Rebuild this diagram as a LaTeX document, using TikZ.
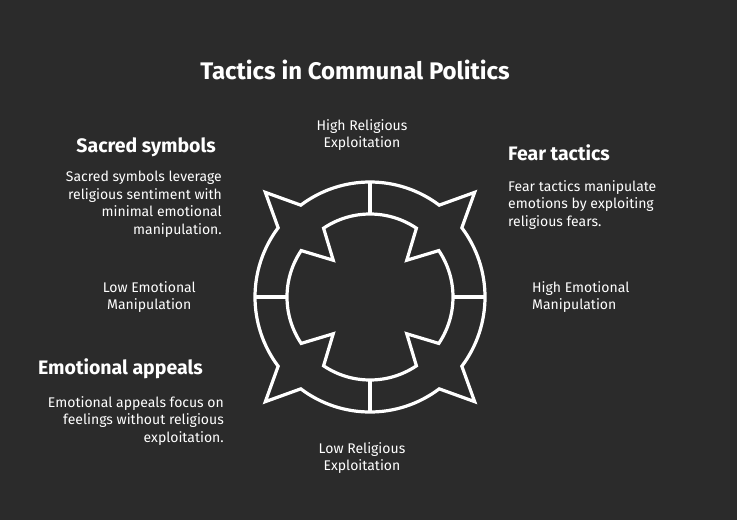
\documentclass[tikz,border=0pt]{standalone}
\usepackage{fontspec}
\setmainfont{Fira Sans}
\begin{document}
\begin{tikzpicture}[x=1pt,y=-1pt,
  lbl/.style={text=white,font=\fontsize{14}{17.5}\selectfont,inner sep=0pt},
  hd/.style={text=white,font=\bfseries\fontsize{19.5}{23}\selectfont,inner sep=0pt},
  ln/.style={draw=white,line width=3.2pt,line join=miter}]
\fill[fill={rgb,255:red,43;green,43;blue,43}] (0,0) rectangle (737,520);
\useasboundingbox (0,0) rectangle (737,520);
\coordinate (c) at (370,297);
\node[hd,font=\bfseries\fontsize{24}{28}\selectfont] (title) at (355,70) {Tactics in Communal Politics};
% outer boundary
\draw[ln] ([shift={(127:115)}]c)
  arc[start angle=127,end angle=53,radius=115] -- ([shift={(45:148)}]c) -- ([shift={(37:115)}]c)
  arc[start angle=37,end angle=-37,radius=115] -- ([shift={(-45:148)}]c) -- ([shift={(-53:115)}]c)
  arc[start angle=-53,end angle=-127,radius=115] -- ([shift={(-135:148)}]c) -- ([shift={(-143:115)}]c)
  arc[start angle=-143,end angle=-217,radius=115] -- ([shift={(135:148)}]c) -- cycle;
% inner boundary
\draw[ln] ([shift={(124:83)}]c)
  arc[start angle=124,end angle=56,radius=83] -- ([shift={(45:52)}]c) -- ([shift={(34:83)}]c)
  arc[start angle=34,end angle=-34,radius=83] -- ([shift={(-45:52)}]c) -- ([shift={(-56:83)}]c)
  arc[start angle=-56,end angle=-124,radius=83] -- ([shift={(-135:52)}]c) -- ([shift={(-146:83)}]c)
  arc[start angle=-146,end angle=-214,radius=83] -- ([shift={(135:52)}]c) -- cycle;
\foreach \a in {0,90,180,270}{\draw[ln] ([shift={(\a:83)}]c) -- ([shift={(\a:115)}]c);}
\node[lbl,align=center] (hr) at (362,135) {High Religious\\Exploitation};
\node[lbl,align=center] (lr) at (362,458) {Low Religious\\Exploitation};
\node[lbl,align=left,anchor=west] (he) at (532,297) {High Emotional\\Manipulation};
\node[lbl,align=center,anchor=east] (le) at (196,297) {Low Emotional\\Manipulation};
\node[hd,anchor=west] (ft) at (508,153) {Fear tactics};
\node[lbl,align=left,anchor=north west] (ftd) at (508,180) {Fear tactics manipulate\\emotions by exploiting\\religious fears.};
\node[hd,anchor=east] (ss) at (216,147) {Sacred symbols};
\node[lbl,align=right,anchor=north east] (ssd) at (222,171) {Sacred symbols leverage\\religious sentiment with\\minimal emotional\\manipulation.};
\node[hd,anchor=east] (ea) at (203,369) {Emotional appeals};
\node[lbl,align=right,anchor=north east] (ead) at (224,396) {Emotional appeals focus on\\feelings without religious\\exploitation.};
\end{tikzpicture}
\end{document}
